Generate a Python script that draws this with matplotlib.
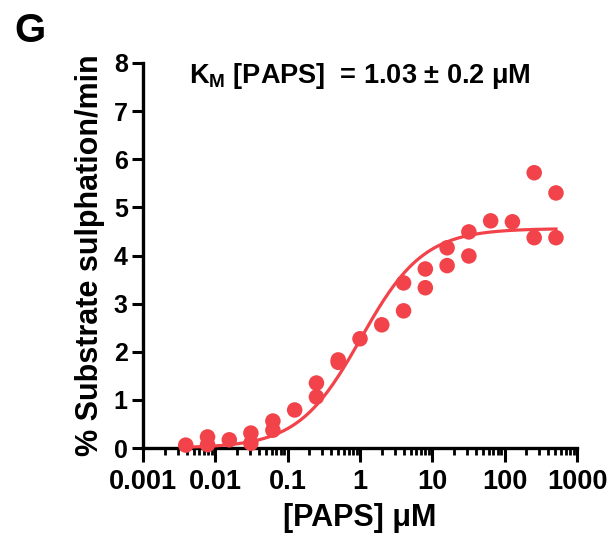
import numpy as np
import matplotlib
matplotlib.use("Agg")
import matplotlib.pyplot as plt
from matplotlib.ticker import LogLocator, FixedLocator, NullFormatter

plt.rcParams['font.family'] = ['Liberation Sans', 'DejaVu Sans']
plt.rcParams['font.weight'] = 'bold'
plt.rcParams['mathtext.fontset'] = 'custom'
plt.rcParams['mathtext.bf'] = 'Liberation Sans:bold'
plt.rcParams['mathtext.rm'] = 'Liberation Sans:bold'

# [PAPS] (uM) and duplicate readings (% substrate sulphation/min)
paps = [0.0039, 0.0078, 0.0078, 0.0156, 0.031, 0.031, 0.0625, 0.0625, 0.125,
        0.25, 0.25, 0.5, 0.5, 1.0, 2.0, 4.0, 4.0, 8.0, 8.0, 16.0, 16.0,
        32.0, 32.0, 64.0, 128.0, 256.0, 256.0, 512.0, 512.0]
rate = [0.06, 0.23, 0.07, 0.17, 0.31, 0.10, 0.56, 0.37, 0.79,
        1.35, 1.06, 1.83, 1.78, 2.27, 2.56, 3.43, 2.85, 3.72, 3.33, 4.16, 3.79,
        4.49, 3.99, 4.72, 4.70, 5.72, 4.37, 5.30, 4.37]

# Michaelis-Menten fit parameters
km = 1.03
vmax = 4.56
fit_range = (0.0039, 512)

red = '#f2434b'

fig = plt.figure(figsize=(6.16, 5.48), dpi=100)
ax = fig.add_axes([143/616, 1 - 448/548, (577-143)/616, (448-63)/548])

xf = np.logspace(np.log10(fit_range[0]), np.log10(fit_range[1]), 300)
ax.plot(xf, vmax * xf / (km + xf), color=red, lw=2.3, clip_on=False, zorder=3)
ax.scatter(paps, rate, s=125, color=red, edgecolors='none', clip_on=False, zorder=4)

ax.set_xscale('log')
ax.set_xlim(0.001, 1000)
ax.set_ylim(0, 8)
ax.xaxis.set_major_locator(FixedLocator([0.001, 0.01, 0.1, 1, 10, 100, 1000]))
ax.set_xticklabels(['0.001', '0.01', '0.1', '1', '10', '100', '1000'])
ax.xaxis.set_minor_locator(LogLocator(base=10, subs=np.arange(2, 10)))
ax.xaxis.set_minor_formatter(NullFormatter())
ax.set_yticks(range(0, 9))

for s in ['top', 'right']:
    ax.spines[s].set_visible(False)
for s in ['left', 'bottom']:
    ax.spines[s].set_linewidth(2.4)

ax.tick_params(axis='both', which='major', width=2.2, length=8, labelsize=18, pad=3)
ax.tick_params(axis='x', which='minor', width=2.0, length=5)
ax.tick_params(axis='x', which='major', length=10, pad=5, labelsize=19.5)

ax.set_xlabel('[PAPS] μM', fontsize=22, fontweight='bold', labelpad=6)
ax.set_ylabel('% Substrate sulphation/min', fontsize=22, fontweight='bold', labelpad=6)

ax.text(0.5, 0.965, r'K$_\mathbf{M}$ [PAPS]  = 1.03 ± 0.2 μM', transform=ax.transAxes,
        ha='center', va='center', fontsize=19.5, fontweight='bold')
fig.text(14/616, 1 - 31/548, 'G', fontsize=29, fontweight='bold', va='center', ha='left')

fig.savefig('out.png', dpi=100)
